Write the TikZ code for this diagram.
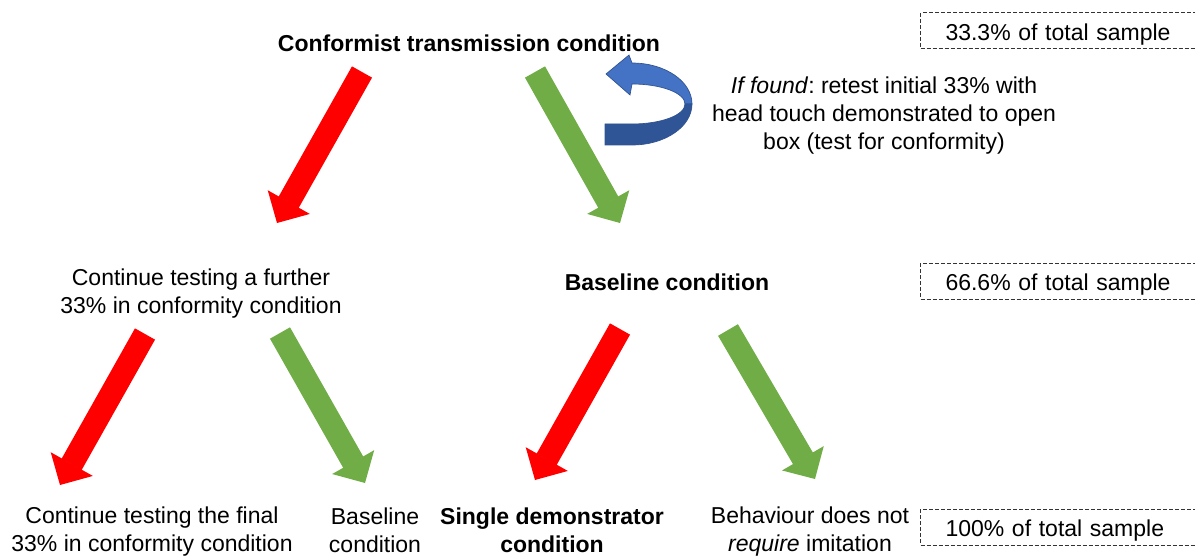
\documentclass[tikz,border=0pt]{standalone}
\usepackage{fontspec}
\setmainfont{Liberation Sans}
\usetikzlibrary{arrows.meta}
\definecolor{arrred}{HTML}{FF0000}
\definecolor{arrgreen}{HTML}{70AD47}
\definecolor{loopblue}{HTML}{4472C4}
\definecolor{loopdark}{HTML}{2F5597}
\definecolor{loopedge}{HTML}{2F528F}
\frenchspacing

\tikzset{
  txt/.style={font=\fontsize{17.25}{21}\selectfont, inner sep=0pt, align=center},
  share/.style={txt, draw=black!80, line width=0.75pt, dash pattern=on 3pt off 1.5pt,
    anchor=west, align=left, text width=187.5pt, inner xsep=18.75pt, inner ysep=0pt,
    text height=20.6pt, text depth=6.4pt},
  blockarrow/.style={line width=17.25pt, line cap=butt,
    -{Triangle[length=18pt, width=36pt, line width=1.2pt]}},
  yesarrow/.style={blockarrow, draw=arrgreen, fill=arrgreen},
  noarrow/.style={blockarrow, draw=arrred, fill=arrred}
}

\begin{document}
\begin{tikzpicture}[x=0.75pt, y=-0.75pt]
  \useasboundingbox (0,0) rectangle (1195,556);
  \clip (0,0) rectangle (1195,556);

  % condition labels
  \node[txt, anchor=base, font=\fontsize{17.25}{21}\selectfont\bfseries] (conform) at (469,52)
    {Conformist transmission condition};
  \node[txt] (iffound) at (884,116)
    {\textit{If found}: retest initial 33\% with\\head touch demonstrated to open\\box (test for conformity)};
  \node[txt] (further) at (201,294)
    {Continue testing a further\\33\% in conformity condition};
  \node[txt, anchor=base, font=\fontsize{17.25}{21}\selectfont\bfseries] (baseline) at (667,290)
    {Baseline condition};
  \node[txt] (final) at (152,532)
    {Continue testing the final\\33\% in conformity condition};
  \node[txt] (baseline2) at (375,530)
    {Baseline\\condition};
  \node[txt, font=\fontsize{17.25}{21}\selectfont\bfseries] (single) at (552,530)
    {Single demonstrator\\condition};
  \node[txt] (noimit) at (810,532)
    {Behaviour does not\\\textit{require} imitation};

  % share of the total sample at each stage
  \node[share] (share1) at (920,31) {33.3\% of total sample};
  \node[share] (share2) at (920,281) {66.6\% of total sample};
  \node[share] (share3) at (920,527) {100\% of total sample};

  % arrow end points
  \coordinate (r1s) at (362,72);  \coordinate (r1e) at (277,223);
  \coordinate (g1s) at (535,72);  \coordinate (g1e) at (620,223);
  \coordinate (r2s) at (145,334); \coordinate (r2e) at (60,485);
  \coordinate (g2s) at (280,333); \coordinate (g2e) at (365,483);
  \coordinate (r3s) at (620,329); \coordinate (r3e) at (535,480);
  \coordinate (g3s) at (728,330); \coordinate (g3e) at (815,479);

  \draw[noarrow]  (r1s) -- (r1e);
  \draw[yesarrow] (g1s) -- (g1e);
  \draw[noarrow]  (r2s) -- (r2e);
  \draw[yesarrow] (g2s) -- (g2e);
  \draw[noarrow]  (r3s) -- (r3e);
  \draw[yesarrow] (g3s) -- (g3e);

  % curved retest arrow: front band with head, then the darker back band
  \filldraw[fill=loopblue, draw=loopedge, line width=0.5pt]
    (606,74) -- (629,55) -- (632,63)
    arc[start angle=-90, end angle=0, x radius=60, y radius=41]
    -- (685,104)
    arc[start angle=0, end angle=-90, x radius=53, y radius=20]
    -- (630,95) -- cycle;
  \filldraw[fill=loopdark, draw=loopedge, line width=0.5pt]
    (692,104)
    arc[start angle=0, end angle=90, x radius=60, y radius=41]
    -- (605,145) -- (605,124) -- (632,124)
    arc[start angle=90, end angle=0, x radius=53, y radius=20]
    -- cycle;
\end{tikzpicture}
\end{document}
